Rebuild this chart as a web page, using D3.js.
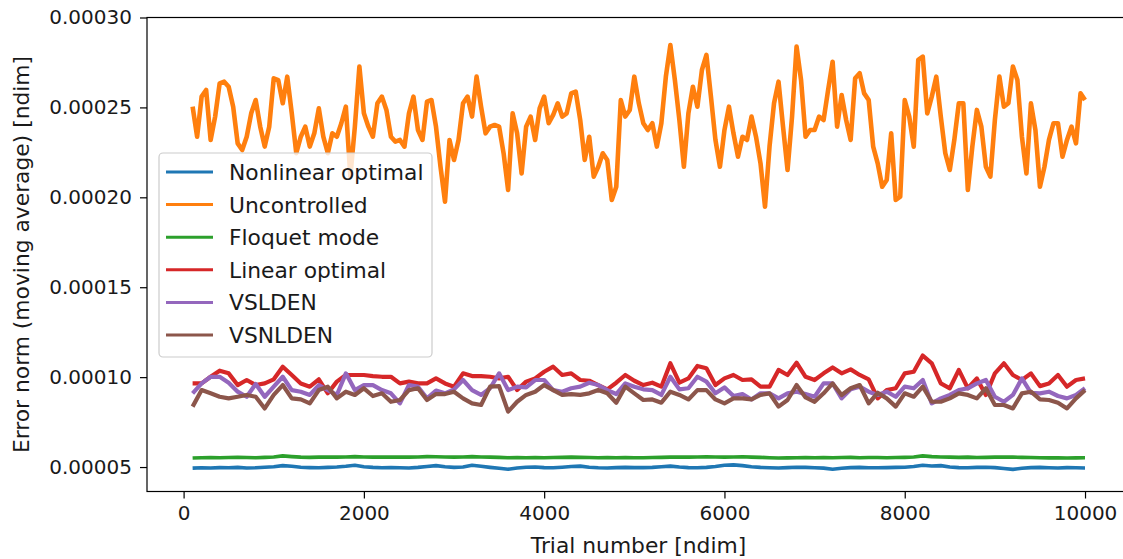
<!DOCTYPE html>
<html>
<head>
<meta charset="utf-8">
<script src="https://cdn.jsdelivr.net/npm/d3@7"></script>
<style>
  html, body { margin: 0; padding: 0; background: #fff; }
  svg { display: block; font-family: "DejaVu Sans", sans-serif; }
</style>
</head>
<body>
<svg id="chart" width="1123" height="559"></svg>
<script>
// Moving-average error norms (units of 1e-5), sampled along the trial axis.
// The uncontrolled run is kept at a finer step (50 trials), the others every 100 trials.
const trialStep = 100;
const trialStepFine = 50;
const trialStart = 100;

const nonlinearOptimal = [
  4.94, 4.96, 4.95, 4.97, 4.96, 4.98, 4.95, 4.96, 4.99, 5.02, 5.08, 5.04, 4.99, 4.97, 4.96, 4.98, 5.00, 5.04, 5.10, 5.02, 4.98, 4.96, 4.97,
  4.96, 4.95, 4.98, 5.03, 5.08, 5.02, 4.98, 5.00, 5.10, 5.04, 4.98, 4.93, 4.88, 4.95, 4.99, 5.00, 4.97, 4.96, 4.99, 5.03, 5.05, 4.99, 4.96, 4.95, 4.97, 4.98, 4.97,
  4.97, 4.98, 5.02, 5.05, 5.00, 4.97, 4.96, 4.98, 5.03, 5.10, 5.12, 5.08, 5.02, 4.98, 4.96, 4.95, 4.97, 4.99, 4.98, 4.96, 4.94, 4.88, 4.93, 4.97, 4.98, 4.96,
  4.96, 4.97, 4.98, 4.99, 5.03, 5.10, 5.06, 5.08, 5.00, 4.97, 4.96, 4.98, 4.99, 4.97, 4.92, 4.87, 4.93, 4.97, 4.98, 4.96, 4.95, 4.97, 4.96, 4.95
];

const uncontrolled = [
  25.04, 23.37, 25.60, 25.97, 23.19, 24.49, 26.34, 26.43, 26.15, 25.04, 23.00, 22.63, 23.37, 24.67, 25.41, 23.93, 22.82, 23.93, 26.62, 26.52,
  25.23, 26.71, 24.67, 22.45, 23.37, 23.93, 22.82, 23.56, 24.95, 23.37, 22.45, 23.56, 23.37, 24.12, 25.04, 21.15, 23.93, 27.27, 24.67, 23.93,
  23.37, 25.23, 25.60, 24.86, 23.37,
  23.10, 23.19, 22.82, 24.67, 25.60, 23.74, 23.19, 25.32, 25.41, 23.93, 21.70, 19.76, 23.19, 22.08, 23.19, 25.23, 25.60, 24.49, 26.71, 25.04,
  23.56, 23.93, 24.02, 23.93, 22.45, 20.41, 24.67, 23.56, 21.33, 23.93, 24.49, 23.19, 24.95, 25.60, 24.12, 24.58, 25.23, 24.49, 24.67, 25.78,
  25.88, 24.30, 22.08, 23.37, 21.15, 21.70, 22.45, 22.08, 19.85, 20.59, 25.41, 24.49, 24.86, 26.71,
  25.23, 24.12, 23.74, 24.12, 22.82, 24.12, 26.71, 28.47, 26.52, 24.30, 21.70, 24.67, 26.15, 25.04, 27.08, 27.92, 25.60, 23.19, 21.70, 23.74,
  25.04, 23.56, 22.26, 23.37, 23.19, 24.49, 23.37, 21.89, 19.48, 22.82, 25.23, 26.43, 23.93, 21.52, 24.49, 28.38, 26.52, 23.37, 23.74, 23.74,
  24.49, 24.30, 25.97, 27.54, 23.93, 25.69, 24.30, 23.19, 26.62, 26.90, 25.78, 25.41, 22.82,
  21.89, 20.59, 20.96, 23.56, 19.85, 20.04, 25.41, 24.49, 22.82, 27.64, 27.82, 24.67, 25.60, 26.71, 24.49, 22.45, 21.52, 23.19, 25.23, 25.23,
  20.41, 22.82, 24.86, 23.93, 21.70, 21.15, 24.30, 26.71, 25.04, 25.23, 27.27, 26.52, 23.37, 21.33, 25.23, 23.74, 20.59, 21.70, 23.19, 24.12,
  24.12, 22.26, 23.19, 23.93, 23.00, 25.78, 25.41
];

const floquetMode = [
  5.50, 5.52, 5.53, 5.52, 5.53, 5.54, 5.53, 5.52, 5.54, 5.56, 5.62, 5.58, 5.55, 5.54, 5.55, 5.56, 5.55, 5.56, 5.58, 5.56, 5.55, 5.56, 5.55,
  5.56, 5.55, 5.56, 5.58, 5.57, 5.56, 5.55, 5.56, 5.58, 5.56, 5.55, 5.54, 5.52, 5.53, 5.52, 5.53, 5.52, 5.53, 5.54, 5.55, 5.54, 5.53, 5.52, 5.53, 5.52, 5.53, 5.52,
  5.52, 5.53, 5.54, 5.55, 5.56, 5.55, 5.56, 5.57, 5.56, 5.55, 5.56, 5.57, 5.55, 5.54, 5.52, 5.50, 5.51, 5.52, 5.53, 5.52, 5.53, 5.52, 5.53, 5.54, 5.52, 5.53,
  5.53, 5.52, 5.53, 5.54, 5.56, 5.62, 5.58, 5.56, 5.55, 5.54, 5.55, 5.53, 5.54, 5.55, 5.56, 5.55, 5.54, 5.53, 5.52, 5.51, 5.52, 5.50, 5.51, 5.52
];

const linearOptimal = [
  9.65, 9.65, 10.02, 10.36, 10.21, 9.56, 9.84, 9.56, 9.65, 9.88, 10.58, 10.12, 9.65, 9.47, 9.88, 9.10, 9.75, 10.12, 10.12, 10.12, 10.06, 10.02, 10.02,
  9.65, 9.75, 9.65, 9.65, 9.93, 9.65, 9.47, 10.21, 10.06, 10.06, 10.02, 9.93, 10.02, 9.28, 9.75, 9.93, 10.30, 10.58, 10.12, 10.21, 9.84, 9.80, 9.56, 9.32, 9.69, 10.12, 9.80,
  9.56, 9.69, 9.47, 10.77, 9.69, 9.93, 10.62, 10.49, 9.56, 9.93, 10.12, 9.84, 9.88, 9.47, 9.47, 10.40, 10.12, 10.80, 10.02, 9.84, 10.21, 10.54, 10.21, 10.43, 10.12, 9.88,
  8.82, 9.28, 9.38, 10.21, 10.30, 11.20, 10.77, 9.65, 9.38, 10.40, 9.38, 9.93, 9.01, 10.21, 10.77, 10.12, 9.84, 10.21, 9.50, 9.65, 10.12, 9.47, 9.84, 9.93
];

const vsldEN = [
  9.10, 9.65, 10.02, 10.02, 9.69, 9.19, 8.91, 9.62, 8.91, 9.47, 10.02, 9.28, 9.19, 9.01, 9.56, 9.28, 9.01, 10.21, 9.28, 9.56, 9.56, 9.28, 9.10,
  8.54, 9.56, 9.47, 8.82, 9.25, 9.10, 9.32, 9.84, 9.28, 9.01, 9.38, 10.21, 9.28, 9.47, 9.43, 9.84, 9.84, 9.28, 9.19, 9.38, 9.47, 9.69, 9.56, 9.28, 9.06, 9.65, 9.47,
  9.32, 9.28, 9.01, 10.02, 9.32, 9.38, 10.02, 9.75, 9.10, 9.43, 8.95, 9.06, 8.76, 9.10, 9.10, 8.82, 9.10, 9.19, 9.06, 8.91, 9.65, 9.65, 8.82, 9.32, 9.47, 9.19,
  9.01, 9.19, 8.91, 9.47, 9.38, 9.84, 8.54, 8.82, 9.01, 9.28, 9.38, 9.65, 9.84, 8.91, 8.63, 9.01, 9.93, 9.13, 9.10, 9.19, 8.95, 8.82, 9.01, 9.38
];

const vsnldEN = [
  8.36, 9.28, 9.10, 8.91, 8.82, 8.91, 9.01, 8.91, 8.26, 9.01, 9.56, 8.82, 8.76, 8.54, 9.28, 9.47, 8.82, 9.19, 9.01, 9.38, 8.95, 9.10, 8.63,
  8.73, 9.28, 9.38, 8.73, 9.06, 9.06, 9.19, 8.82, 8.54, 8.45, 9.47, 9.50, 8.08, 8.63, 9.01, 9.19, 9.56, 9.28, 9.01, 9.06, 9.01, 9.10, 9.28, 9.10, 8.58, 9.47, 9.10,
  8.73, 8.76, 8.58, 9.19, 9.01, 8.76, 9.28, 9.28, 8.76, 8.54, 8.82, 8.82, 8.76, 9.01, 9.10, 8.36, 8.73, 9.56, 8.87, 8.63, 9.10, 9.65, 9.01, 9.38, 9.56, 8.54,
  9.13, 8.82, 8.36, 9.10, 8.91, 9.47, 8.63, 8.63, 8.82, 9.10, 9.01, 8.82, 9.38, 8.45, 8.45, 8.26, 9.10, 9.19, 8.76, 8.73, 8.58, 8.26, 8.82, 9.28
];

const seriesNames = ["Nonlinear optimal", "Uncontrolled", "Floquet mode", "Linear optimal", "VSLDEN", "VSNLDEN"];
const seriesColors = ["#1f77b4", "#ff7f0e", "#2ca02c", "#d62728", "#9467bd", "#8c564b"];
const seriesWidths = [3.6, 4.6, 3.6, 4.2, 4.2, 4.2];
const yTicks = [0.00005, 0.00010, 0.00015, 0.00020, 0.00025, 0.00030];
const xTicks = [0, 2000, 4000, 6000, 8000, 10000];
const xLabel = "Trial number [ndim]";
const yLabel = "Error norm (moving average) [ndim]";

const seriesValues = [nonlinearOptimal, uncontrolled, floquetMode, linearOptimal, vsldEN, vsnldEN];
const seriesSteps = [trialStep, trialStepFine, trialStep, trialStep, trialStep, trialStep];

const series = seriesNames.map((name, i) => ({
  name,
  color: seriesColors[i],
  width: seriesWidths[i],
  points: seriesValues[i].map((v, j) => [trialStart + j * seriesSteps[i], v * 1e-5])
}));

// Layout
const svg = d3.select("#chart");
const plot = { left: 147, right: 1130, top: 17.5, bottom: 491.5 };

const x = d3.scaleLinear().domain([-406, 10499]).range([plot.left, plot.right]);
const y = d3.scaleLinear().domain([0.0000364, 0.0003]).range([plot.bottom, plot.top]);

const textColor = "#1a1a1a";
const tickFont = 20;
const labelFont = 21.8;

svg.append("defs").append("clipPath").attr("id", "plot-clip")
  .append("rect")
  .attr("x", plot.left).attr("y", plot.top)
  .attr("width", plot.right - plot.left).attr("height", plot.bottom - plot.top);

// Series lines
const line = d3.line().x(d => x(d[0])).y(d => y(d[1]));
const linesG = svg.append("g").attr("clip-path", "url(#plot-clip)");
series.forEach(s => {
  linesG.append("path")
    .datum(s.points)
    .attr("fill", "none")
    .attr("stroke", s.color)
    .attr("stroke-width", s.width)
    .attr("stroke-linejoin", "round")
    .attr("stroke-linecap", "butt")
    .attr("d", line);
});

// Axes
const xAxis = d3.axisBottom(x).tickValues(xTicks).tickFormat(d3.format("d")).tickSize(7).tickPadding(7);
const yAxis = d3.axisLeft(y).tickValues(yTicks).tickFormat(d3.format(".5f")).tickSize(7).tickPadding(8);

const gx = svg.append("g").attr("transform", `translate(0,${plot.bottom})`).call(xAxis);
const gy = svg.append("g").attr("transform", `translate(${plot.left},0)`).call(yAxis);
[gx, gy].forEach(g => {
  g.select(".domain").remove();
  g.selectAll(".tick line").attr("stroke", "#000").attr("stroke-width", 1.2);
  g.selectAll(".tick text")
    .attr("fill", textColor)
    .style("font-family", "'DejaVu Sans', sans-serif")
    .style("font-size", tickFont + "px");
});
gx.selectAll(".tick text").attr("dy", "0.72em");

// Frame
svg.append("rect")
  .attr("x", plot.left).attr("y", plot.top)
  .attr("width", plot.right - plot.left).attr("height", plot.bottom - plot.top)
  .attr("fill", "none").attr("stroke", "#000").attr("stroke-width", 1.2);

// Axis titles
svg.append("text")
  .attr("x", (plot.left + plot.right) / 2)
  .attr("y", 553)
  .attr("text-anchor", "middle")
  .attr("fill", textColor)
  .style("font-size", labelFont + "px")
  .text(xLabel);

svg.append("text")
  .attr("transform", `translate(28.5,${(plot.top + plot.bottom) / 2}) rotate(-90)`)
  .attr("text-anchor", "middle")
  .attr("fill", textColor)
  .style("font-size", labelFont + "px")
  .text(yLabel);

// Legend
const legend = svg.append("g");
legend.append("rect")
  .attr("x", 159).attr("y", 153)
  .attr("width", 273).attr("height", 204)
  .attr("rx", 4).attr("ry", 4)
  .attr("fill", "#fff").attr("fill-opacity", 0.8)
  .attr("stroke", "#cccccc").attr("stroke-width", 1.2);

series.forEach((s, i) => {
  const cy = 172 + i * 32.6;
  legend.append("line")
    .attr("x1", 166).attr("x2", 213)
    .attr("y1", cy).attr("y2", cy)
    .attr("stroke", s.color).attr("stroke-width", 3);
  legend.append("text")
    .attr("x", 229).attr("y", cy + 8)
    .attr("fill", textColor)
    .style("font-size", labelFont + "px")
    .text(s.name);
});
</script>
</body>
</html>
